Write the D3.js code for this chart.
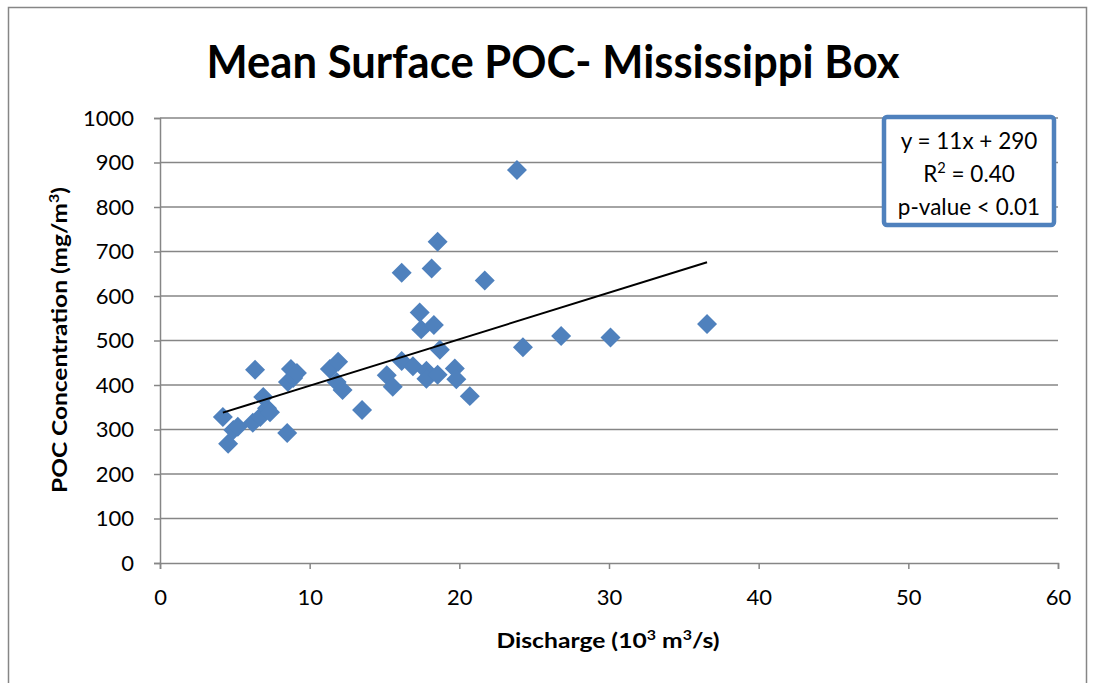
<!DOCTYPE html>
<html><head><meta charset="utf-8">
<script src="https://cdn.jsdelivr.net/npm/d3@7"></script>
<style>
html,body{margin:0;padding:0;background:#fff;}
svg text{font-family:Lato,"Open Sans",sans-serif;fill:#000;}
</style></head>
<body><svg id="c" width="1094" height="683"></svg>
<script>
// ---- data ----
const discharge = [4.2, 4.55, 4.9, 5.2, 6.2, 6.35, 6.7, 6.9, 7.15, 7.35, 8.5, 8.55, 8.75, 8.9, 9.15,
  11.35, 11.8, 11.9, 12.2, 13.5, 15.15, 15.55, 16.15, 16.15, 16.9, 17.35, 17.45, 17.8, 17.8, 18.15,
  18.3, 18.55, 18.55, 18.7, 19.7, 19.8, 20.7, 21.7, 23.85, 24.25, 26.8, 30.1, 36.55];
const poc = [328, 268, 299, 306, 315, 434, 328, 373, 348, 339, 292, 407, 436, 416, 427,
  436, 407, 452, 389, 344, 422, 396, 454, 652, 442, 563, 525, 432, 414, 662,
  535, 423, 722, 479, 437, 413, 375, 635, 883, 485, 510, 507, 537];
const trendCoef = [10.45, 294];           // slope, intercept (as drawn)
const xTicks = [0, 10, 20, 30, 40, 50, 60];
const yTicks = [0, 100, 200, 300, 400, 500, 600, 700, 800, 900, 1000];
const titleText = "Mean Surface POC- Mississippi Box";
// [text, superscript?] pieces
const xTitleParts = [["Discharge (10", false], ["3", true], [" m", false], ["3", true], ["/s)", false]];
const yTitleParts = [["POC Concentration (mg/m", false], ["3", true], [")", false]];
const annoLines = [[["y = 11x + 290", false]], [["R", false], ["2", true], [" = 0.40", false]], [["p-value < 0.01", false]]];

// ---- layout ----
const svg = d3.select("#c");
const L = 160, R = 1058, T = 118, B = 563;
const x = d3.scaleLinear().domain([0, 60]).range([L, R]);
const y = d3.scaleLinear().domain([0, 1000]).range([B, T]);
const blue = "#4f81bd", gray = "#868686";

function addParts(textSel, parts, fs) {
  parts.forEach(([t, sup], i) => {
    const ts = textSel.append("tspan").text(t);
    if (sup) ts.attr("font-size", fs * 0.65).attr("dy", -fs * 0.38);
    else if (i > 0 && parts[i - 1][1]) ts.attr("dy", fs * 0.38);
  });
}

// outer chart border
svg.append("rect").attr("x", 8.5).attr("y", 7.5).attr("width", 1078).attr("height", 700)
  .attr("fill", "none").attr("stroke", gray).attr("stroke-width", 1.5);

// title
svg.append("text").attr("x", 553).attr("y", 78).attr("text-anchor", "middle")
  .attr("font-size", 45).attr("font-weight", "bold")
  .attr("textLength", 693).attr("lengthAdjust", "spacingAndGlyphs").text(titleText);

// gridlines
svg.append("g").selectAll("line").data(yTicks.filter(d => d > 0)).join("line")
  .attr("x1", L).attr("x2", R).attr("y1", d => y(d)).attr("y2", d => y(d))
  .attr("stroke", gray).attr("stroke-width", 1.5);

// y axis
const yAxis = svg.append("g").attr("transform", `translate(${L},0)`)
  .call(d3.axisLeft(y).tickValues(yTicks).tickSize(6).tickPadding(20).tickFormat(d3.format("d")));
yAxis.select(".domain").attr("stroke", gray).attr("stroke-width", 1.5);
yAxis.selectAll(".tick line").attr("stroke", gray).attr("stroke-width", 1.5);
yAxis.selectAll(".tick text").attr("font-size", 22).attr("fill", "#000").attr("font-family", "Lato");

// x axis
const xAxis = svg.append("g").attr("transform", `translate(0,${B})`)
  .call(d3.axisBottom(x).tickValues(xTicks).tickSize(6).tickPadding(20).tickFormat(d3.format("d")));
xAxis.select(".domain").attr("stroke", gray).attr("stroke-width", 1.5);
xAxis.selectAll(".tick line").attr("stroke", gray).attr("stroke-width", 1.5);
xAxis.selectAll(".tick text").attr("font-size", 22).attr("fill", "#000").attr("font-family", "Lato");

// axis titles
const xt = svg.append("text").attr("x", 608).attr("y", 648).attr("text-anchor", "middle")
  .attr("font-size", 21).attr("font-weight", "bold")
  .attr("textLength", 223).attr("lengthAdjust", "spacingAndGlyphs");
addParts(xt, xTitleParts, 21);
const yt = svg.append("text").attr("transform", "translate(67,340) rotate(-90)").attr("text-anchor", "middle")
  .attr("font-size", 21).attr("font-weight", "bold")
  .attr("textLength", 306).attr("lengthAdjust", "spacingAndGlyphs");
addParts(yt, yTitleParts, 21);

// points
const pts = discharge.map((d, i) => ({x: d, y: poc[i]}));
const sym = d3.symbol(d3.symbolSquare, 200);
svg.append("g").selectAll("path").data(pts).join("path")
  .attr("d", sym)
  .attr("transform", d => `translate(${x(d.x)},${y(d.y)}) rotate(45)`)
  .attr("fill", blue);

// trendline
const x0 = d3.min(discharge), x1 = d3.max(discharge);
svg.append("line")
  .attr("x1", x(x0)).attr("y1", y(trendCoef[0] * x0 + trendCoef[1]))
  .attr("x2", x(x1)).attr("y2", y(trendCoef[0] * x1 + trendCoef[1]))
  .attr("stroke", "#000").attr("stroke-width", 2);

// annotation box
svg.append("rect").attr("x", 884).attr("y", 117).attr("width", 170).attr("height", 108)
  .attr("rx", 3).attr("fill", "#fff").attr("stroke", blue).attr("stroke-width", 4.5);
annoLines.forEach((parts, i) => {
  const t = svg.append("text").attr("x", 969).attr("y", 149 + i * 33).attr("text-anchor", "middle")
    .attr("font-size", 22.5);
  addParts(t, parts, 22.5);
});
</script></body></html>
